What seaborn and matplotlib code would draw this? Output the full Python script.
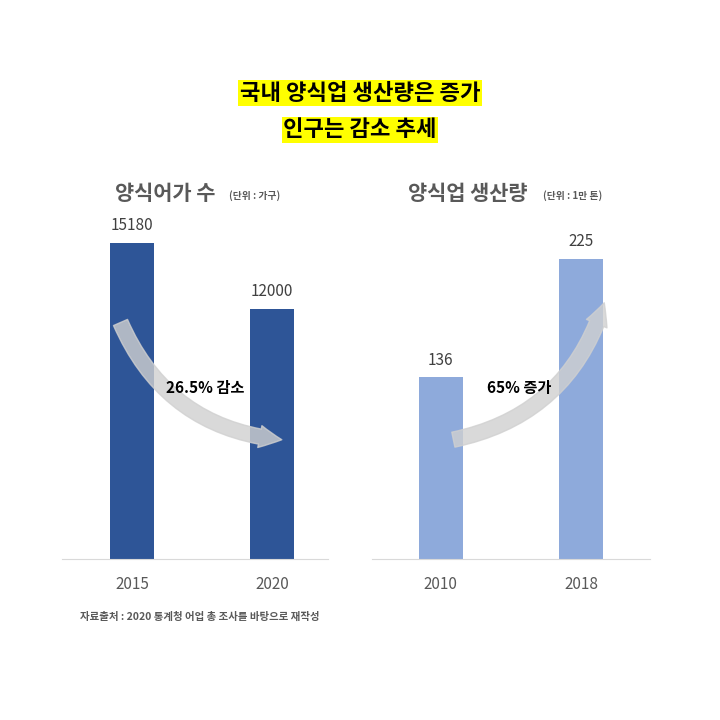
import matplotlib
matplotlib.use("Agg")
import matplotlib.pyplot as plt
import seaborn as sns
import pandas as pd
from matplotlib.patches import FancyArrowPatch

plt.rcParams["font.family"] = ["Noto Sans CJK KR", "Noto Sans CJK JP", "Noto Sans CJK SC", "DejaVu Sans"]

farm_years = ["2015", "2020"]
farm_counts = [15180, 12000]
prod_years = ["2010", "2018"]
prod_values = [136, 225]

fig = plt.figure(figsize=(7.2, 7.2), dpi=100)
W, H = 720, 720

def axes_px(x0, x1, y0, y1):
    return fig.add_axes([x0 / W, 1 - y1 / H, (x1 - x0) / W, (y1 - y0) / H])

ax1 = axes_px(62, 328, 200, 559)
ax2 = axes_px(372, 650, 200, 559)

df1 = pd.DataFrame({"year": farm_years, "v": farm_counts})
df2 = pd.DataFrame({"year": prod_years, "v": prod_values})
sns.barplot(data=df1, x="year", y="v", color="#2e5597", width=0.31, saturation=1, ax=ax1)
sns.barplot(data=df2, x="year", y="v", color="#8eaadb", width=0.31, saturation=1, ax=ax2)

ax1.set_xlim(-0.5, 1.4)
ax1.set_ylim(0, 17240)
ax2.set_xlim(-0.49, 1.49)
ax2.set_ylim(0, 269)

for ax, vals in [(ax1, farm_counts), (ax2, prod_values)]:
    for s in ["top", "right", "left"]:
        ax.spines[s].set_visible(False)
    ax.spines["bottom"].set_color("#d9d9d9")
    ax.set_yticks([])
    ax.set_xlabel("")
    ax.set_ylabel("")
    ax.tick_params(axis="x", length=0, pad=12, labelsize=11, labelcolor="#595959")
    for i, v in enumerate(vals):
        ax.text(i, v + ax.get_ylim()[1] * 0.025, str(v), ha="center", va="bottom",
                fontsize=11, color="#404040")

# curved arrows
a1 = FancyArrowPatch((-0.09, 11480), (1.09, 5715), connectionstyle="arc3,rad=0.3",
                     arrowstyle="simple,head_width=16,head_length=16,tail_width=11",
                     color="#d0d0d0", alpha=0.8, mutation_scale=1, zorder=3)
ax1.add_patch(a1)
ax1.text(0.52, 8210, "26.5% 감소", ha="center", va="center", fontsize=11,
         fontweight="bold", zorder=4)
a2 = FancyArrowPatch((0.07, 89), (1.17, 194), connectionstyle="arc3,rad=0.3",
                     arrowstyle="simple,head_width=16,head_length=16,tail_width=11",
                     color="#d0d0d0", alpha=0.8, mutation_scale=1, zorder=3)
ax2.add_patch(a2)
ax2.text(0.56, 128, "65% 증가", ha="center", va="center", fontsize=11,
         fontweight="bold", zorder=4)

# headline
hl = dict(facecolor="#ffff00", edgecolor="none", pad=1)
fig.text(0.5, 1 - 93 / H, "국내 양식업 생산량은 증가", ha="center", va="center",
         fontsize=16, fontweight="bold", bbox=hl)
fig.text(0.5, 1 - 130 / H, "인구는 감소 추세", ha="center", va="center",
         fontsize=16, fontweight="bold", bbox=hl)

# panel titles
fig.text(115 / W, 1 - 193 / H, "양식어가 수", fontsize=15, fontweight="bold",
         color="#595959", va="center")
fig.text(229 / W, 1 - 196 / H, "(단위 : 가구)", fontsize=7, fontweight="bold",
         color="#595959", va="center")
fig.text(408 / W, 1 - 193 / H, "양식업 생산량", fontsize=15, fontweight="bold",
         color="#595959", va="center")
fig.text(543 / W, 1 - 196 / H, "(단위 : 1만 톤)", fontsize=7, fontweight="bold",
         color="#595959", va="center")

fig.text(80 / W, 1 - 617 / H, "자료출처 : 2020 통계청 어업 총 조사를 바탕으로 재작성",
         fontsize=7.5, fontweight="bold", color="#595959", va="center")

fig.savefig("out.png", dpi=100, facecolor="white")
